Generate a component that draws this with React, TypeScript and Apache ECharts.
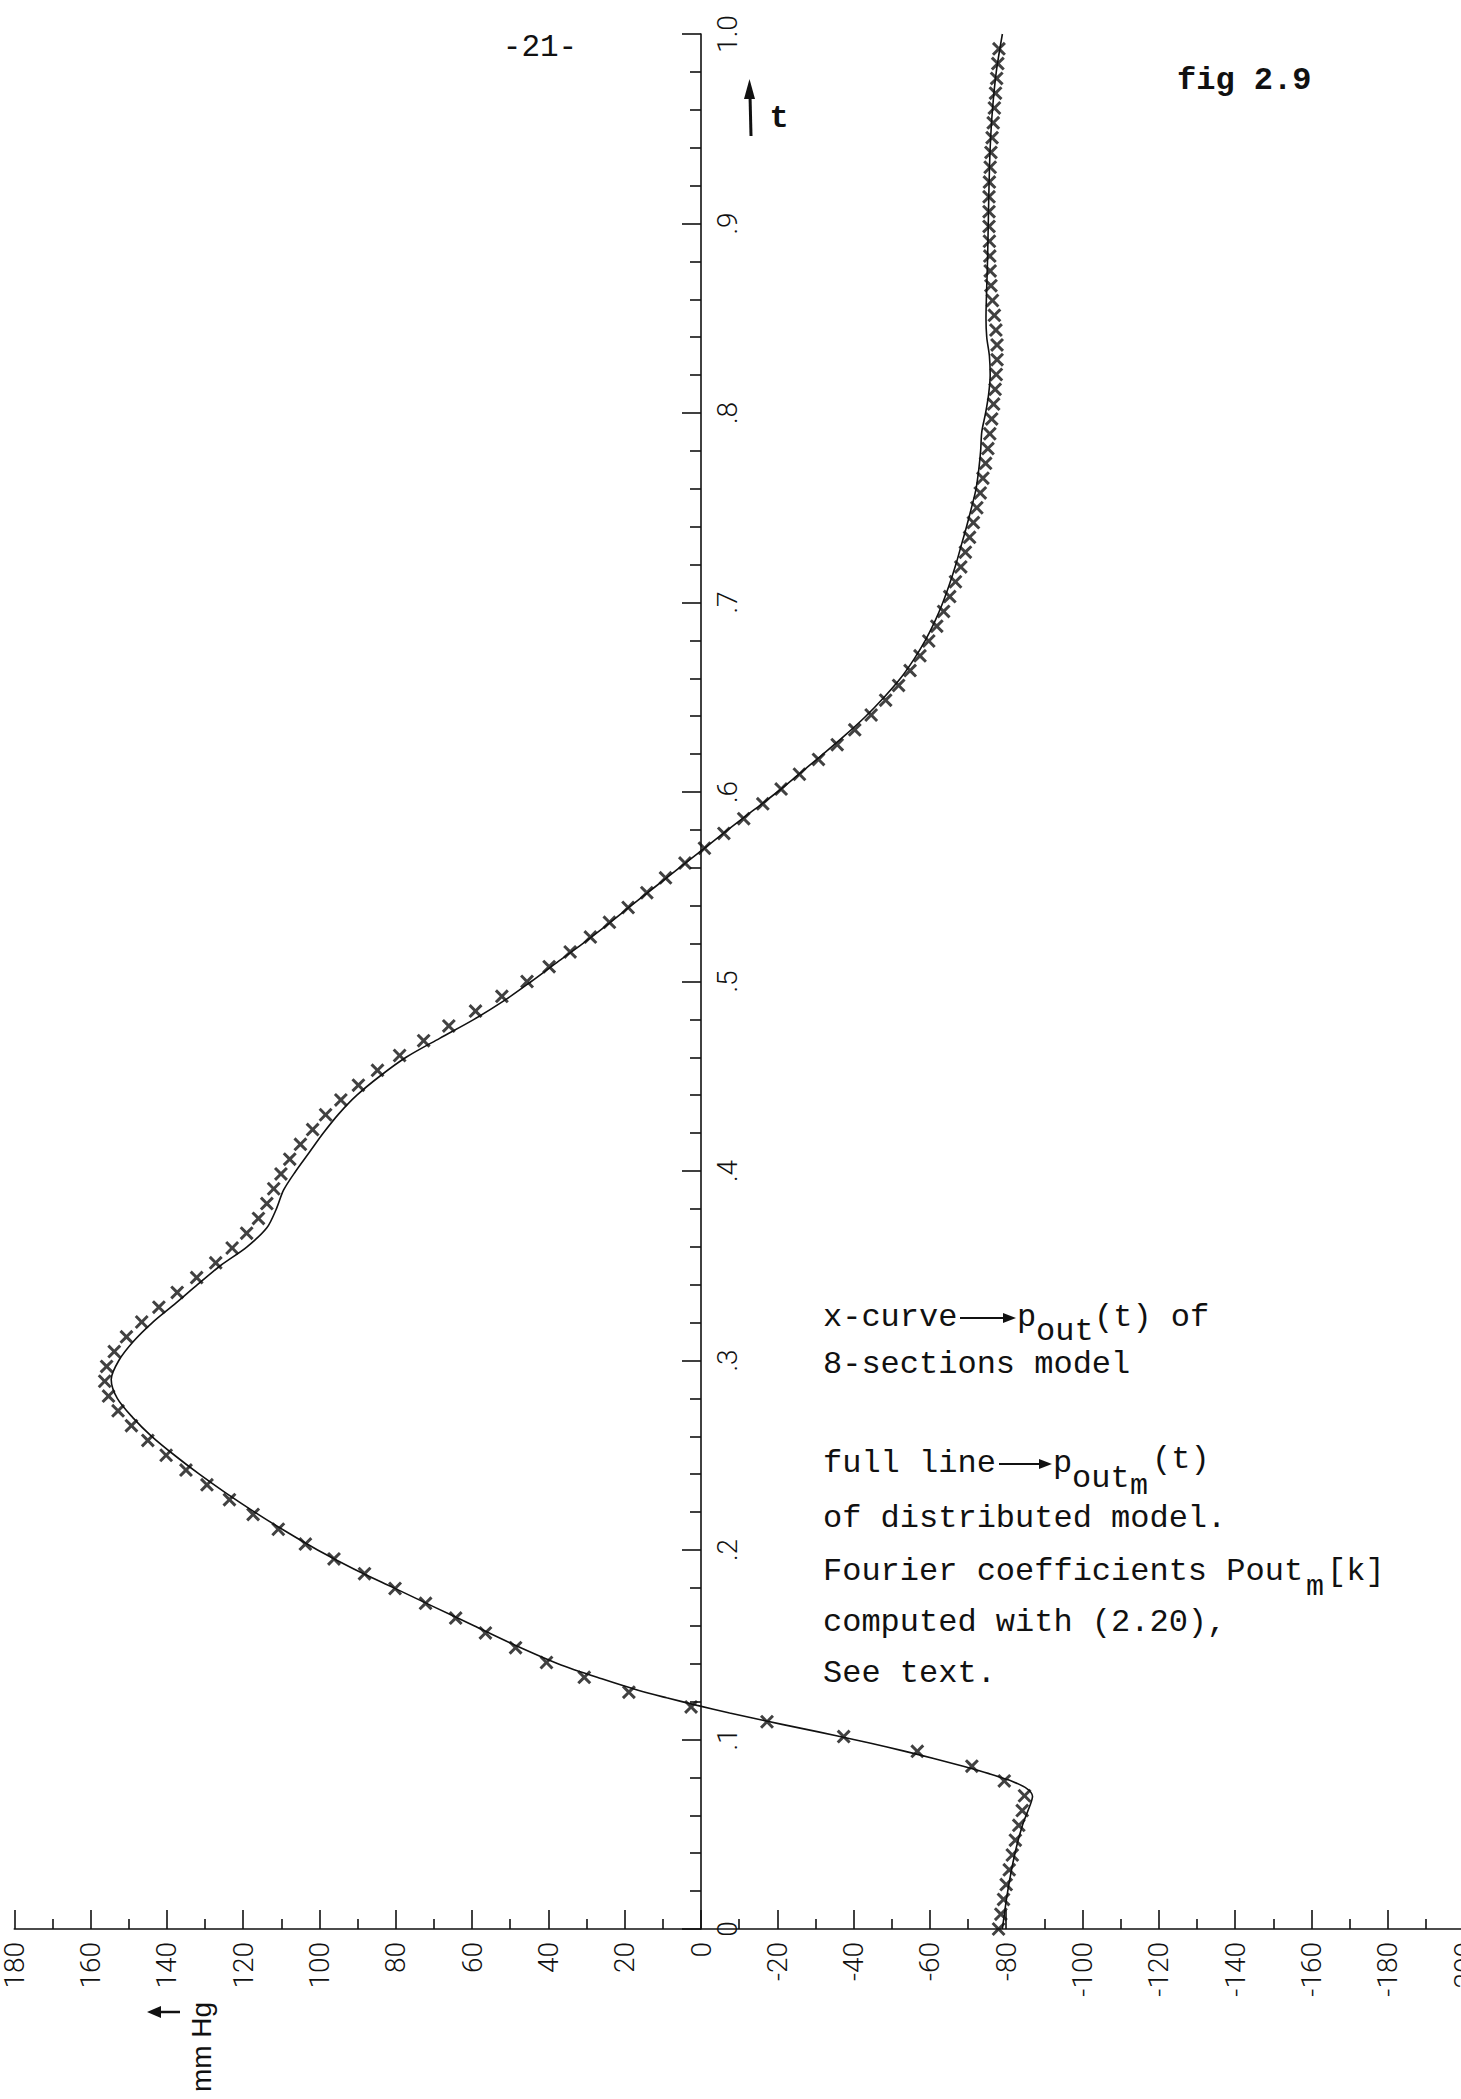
import React, { useEffect, useRef } from "react";
import * as echarts from "echarts";

// Sampling interval of the 8-sections model output: 128 samples per period
const SECTION_MODEL_DT = 1 / 128;

// p_out(t) of the 8-sections model in mmHg, one value per sample (k = 0..127)
const sectionModelP = [
  -78.0, -78.6, -79.3, -80.0, -80.8, -81.6, -82.4, -83.3, -84.2, -84.8,
  -79.5, -71.0, -56.7, -37.4, -17.3, 2.6, 18.9, 30.6, 40.5, 48.6,
  56.5, 64.3, 72.2, 80.2, 88.2, 96.2, 103.7, 110.8, 117.4, 123.6,
  129.5, 135.0, 140.2, 145.0, 149.3, 152.8, 155.3, 156.3, 155.8, 153.8,
  150.6, 146.6, 142.1, 137.3, 132.2, 127.2, 122.9, 119.1, 116.0, 113.8,
  112.0, 110.1, 107.8, 105.0, 101.8, 98.4, 94.4, 89.8, 84.8, 79.0,
  72.7, 66.1, 59.1, 52.2, 45.6, 39.8, 34.3, 29.0, 24.0, 19.1,
  14.2, 9.3, 4.2, -0.9, -6.0, -11.2, -16.2, -21.0, -25.8, -30.8,
  -35.7, -40.3, -44.6, -48.4, -51.8, -54.8, -57.4, -59.7, -61.8, -63.6,
  -65.2, -66.7, -68.1, -69.3, -70.4, -71.4, -72.3, -73.2, -73.9, -74.6,
  -75.2, -75.7, -76.2, -76.7, -77.1, -77.4, -77.6, -77.6, -77.3, -76.9,
  -76.4, -76.0, -75.8, -75.7, -75.6, -75.5, -75.5, -75.5, -75.6, -75.8,
  -76.0, -76.3, -76.6, -76.9, -77.2, -77.5, -77.8, -78.1,
];

// p_out_m(t) of the distributed model (Fourier synthesis), mmHg
const distributedT = [
  0, 0.02, 0.04, 0.055, 0.065, 0.07, 0.074, 0.078, 0.082, 0.086,
  0.09, 0.094, 0.098, 0.102, 0.106, 0.11, 0.114, 0.118, 0.122, 0.126,
  0.132, 0.14, 0.15, 0.16, 0.17, 0.18, 0.19, 0.2, 0.21, 0.22,
  0.23, 0.24, 0.25, 0.26, 0.27, 0.28, 0.29, 0.3, 0.31, 0.32,
  0.33, 0.34, 0.35, 0.36, 0.37, 0.38, 0.39, 0.4, 0.41, 0.42,
  0.43, 0.44, 0.45, 0.46, 0.47, 0.48, 0.49, 0.5, 0.51, 0.52,
  0.53, 0.54, 0.55, 0.56, 0.57, 0.58, 0.59, 0.6, 0.61, 0.62,
  0.63, 0.64, 0.65, 0.66, 0.67, 0.68, 0.69, 0.7, 0.71, 0.72,
  0.73, 0.74, 0.75, 0.76, 0.77, 0.78, 0.79, 0.8, 0.81, 0.82,
  0.83, 0.84, 0.85, 0.86, 0.88, 0.9, 0.92, 0.94, 0.96, 0.98,
  1.0,
];
const distributedP = [
  -79.0, -80.4, -82.3, -84.3, -86.2, -86.9, -85.5, -81.5, -75.5, -68.5,
  -61.0, -53.0, -44.5, -35.5, -26.0, -16.5, -7.5, 1.0, 9.0, 16.5,
  26.0, 37.5, 49.0, 59.5, 70.0, 80.5, 91.0, 100.5, 109.0, 117.0,
  124.5, 131.5, 138.0, 144.0, 149.0, 153.0, 154.6, 152.6, 148.8, 143.8,
  137.8, 132.0, 126.0, 119.0, 113.8, 111.3, 109.4, 106.2, 102.6, 99.0,
  95.0, 90.2, 84.2, 77.3, 68.5, 59.5, 51.5, 44.5, 37.8, 31.0,
  24.5, 18.3, 12.0, 5.7, -0.7, -7.0, -13.5, -20.0, -26.0, -32.0,
  -37.8, -43.2, -48.0, -52.3, -55.8, -58.8, -61.3, -63.4, -65.2, -66.8,
  -68.2, -69.6, -70.9, -72.1, -72.8, -73.3, -73.6, -74.6, -75.4, -75.8,
  -75.6, -74.9, -74.7, -74.8, -75.1, -75.3, -75.5, -75.8, -76.4, -77.4,
  -79.0,
];

// Axis ranges
const PRESSURE_MIN = -200;
const PRESSURE_MAX = 180;
const PRESSURE_STEP = 20;
const T_MIN = 0;
const T_MAX = 1;
const T_STEP = 0.1;

// Plot frame in pixels
const GRID_LEFT = 14.3;
const GRID_RIGHT = 16;
const GRID_TOP = 34;
const GRID_BOTTOM = 170;
const CHART_WIDTH = 1480;

const INK = "#111";
const MONO = '"Liberation Mono", "DejaVu Sans Mono", monospace';
const PLOTTER = 'Roboto, "Liberation Sans", sans-serif';

const CROSS_SYMBOL =
  "path://M0,1.5L1.5,0L5,3.5L8.5,0L10,1.5L6.5,5L10,8.5L8.5,10L5,6.5L1.5,10L0,8.5L3.5,5Z";

type TextOpts = {
  x: number;
  base: number;
  s: string;
  size?: number;
  weight?: string;
  align?: string;
  family?: string;
};

// Typewritten text placed by its baseline
function typed({ x, base, s, size = 32, weight = "normal", align = "left", family = MONO }: TextOpts) {
  return {
    type: "text",
    x,
    y: base - size * 0.3,
    silent: true,
    style: {
      text: s,
      fontSize: size,
      fontFamily: family,
      fontWeight: weight,
      fill: INK,
      align,
      verticalAlign: "middle",
      textAlign: align,
      textVerticalAlign: "middle",
    },
  };
}

// Typewriter-style long arrow pointing right
function rightArrow(x1: number, x2: number, y: number) {
  return [
    { type: "line", silent: true, shape: { x1, y1: y, x2: x2 - 8, y2: y }, style: { stroke: INK, lineWidth: 2 } },
    {
      type: "polygon",
      silent: true,
      shape: { points: [[x2, y], [x2 - 13, y - 5], [x2 - 13, y + 5]] },
      style: { fill: INK },
    },
  ];
}

function buildOption() {
  const crosses = sectionModelP.map((p, k) => [p, k * SECTION_MODEL_DT]);
  const fullLine = distributedT.map((t, i) => [distributedP[i], t]);

  // the t axis stands at p = 0 on the pressure scale
  const plotWidth = CHART_WIDTH - GRID_LEFT - GRID_RIGHT;
  const zeroX = GRID_LEFT + (PRESSURE_MAX / (PRESSURE_MAX - PRESSURE_MIN)) * plotWidth;
  const tAxisOffset = GRID_LEFT - zeroX;

  const L1 = 1327;
  const L2 = 1374;
  const L3 = 1473;
  const L4 = 1528;
  const L5 = 1581;
  const L6 = 1632;
  const L7 = 1683;

  const graphics: any[] = [
    typed({ x: 540, base: 57, s: "-21-", size: 31, align: "center" }),
    typed({ x: 1177, base: 90, s: "fig 2.9", size: 32, weight: "bold" }),
    // time arrow beside the t axis
    typed({ x: 779, base: 128, s: "t", size: 32, weight: "bold", align: "center" }),
    { type: "line", silent: true, shape: { x1: 751, y1: 136, x2: 750, y2: 95 }, style: { stroke: INK, lineWidth: 3 } },
    { type: "polygon", silent: true, shape: { points: [[749.5, 79], [744, 99], [755, 99]] }, style: { fill: INK } },
    // pressure unit
    {
      type: "text",
      x: 201,
      y: 2047,
      rotation: Math.PI / 2,
      silent: true,
      style: {
        text: "mm Hg",
        fontSize: 28,
        fontFamily: '"Liberation Sans", sans-serif',
        fill: INK,
        align: "center",
        verticalAlign: "middle",
        textAlign: "center",
        textVerticalAlign: "middle",
      },
    },
    { type: "line", silent: true, shape: { x1: 180, y1: 2012, x2: 158, y2: 2012 }, style: { stroke: INK, lineWidth: 2.5 } },
    { type: "polygon", silent: true, shape: { points: [[147, 2012], [161, 2006], [161, 2018]] }, style: { fill: INK } },

    // x-curve -> p_out(t) of 8-sections model
    typed({ x: 823, base: L1, s: "x-curve" }),
    ...rightArrow(960, 1016, L1 - 9),
    typed({ x: 1017, base: L1, s: "p" }),
    typed({ x: 1036, base: L1 + 14, s: "out" }),
    typed({ x: 1094, base: L1, s: "(t) of" }),
    typed({ x: 823, base: L2, s: "8-sections model" }),

    // full line -> p_out_m(t) of distributed model
    typed({ x: 823, base: L3, s: "full line" }),
    ...rightArrow(999, 1052, L3 - 9),
    typed({ x: 1053, base: L3, s: "p" }),
    typed({ x: 1072, base: L3 + 15, s: "out" }),
    typed({ x: 1130, base: L3 + 22, s: "m", size: 30 }),
    typed({ x: 1152, base: L3 - 4, s: "(t)" }),
    typed({ x: 823, base: L4, s: "of distributed model." }),
    typed({ x: 823, base: L5, s: "Fourier coefficients Pout" }),
    typed({ x: 1306, base: L5 + 15, s: "m", size: 30 }),
    typed({ x: 1327, base: L5, s: "[k]" }),
    typed({ x: 823, base: L6, s: "computed with (2.20)," }),
    typed({ x: 823, base: L7, s: "See text." }),
  ];

  const axisLabelFont = {
    fontFamily: PLOTTER,
    fontSize: 28,
    fontWeight: 300,
    color: INK,
  };

  return {
    animation: false,
    backgroundColor: "#fff",
    grid: { left: GRID_LEFT, right: GRID_RIGHT, top: GRID_TOP, bottom: GRID_BOTTOM, containLabel: false },
    xAxis: {
      type: "value",
      min: PRESSURE_MIN,
      max: PRESSURE_MAX,
      interval: PRESSURE_STEP,
      inverse: true,
      axisLine: { show: true, onZero: false, lineStyle: { color: INK, width: 1.6 } },
      axisTick: { show: true, inside: true, length: 19, lineStyle: { color: INK, width: 1.6 } },
      minorTick: { show: true, splitNumber: 2, length: 10, lineStyle: { color: INK, width: 1.6 } },
      axisLabel: {
        ...axisLabelFont,
        rotate: 90,
        margin: 13,
        interval: 0,
        showMinLabel: true,
        showMaxLabel: true,
        hideOverlap: false,
      },
      splitLine: { show: false },
      minorSplitLine: { show: false },
    },
    yAxis: {
      type: "value",
      min: T_MIN,
      max: T_MAX,
      interval: T_STEP,
      position: "left",
      offset: tAxisOffset,
      axisLine: { show: true, onZero: false, lineStyle: { color: INK, width: 1.6 } },
      axisTick: { show: true, inside: false, length: 19, lineStyle: { color: INK, width: 1.6 } },
      minorTick: { show: true, splitNumber: 5, length: 11, lineStyle: { color: INK, width: 1.6 } },
      axisLabel: {
        ...axisLabelFont,
        inside: true,
        rotate: 90,
        margin: 12,
        showMinLabel: true,
        showMaxLabel: true,
        formatter: (v: number) => {
          if (Math.abs(v) < 1e-9) return "0";
          if (v > 0.999) return "1.0";
          return "." + Math.round(v * 10);
        },
      },
      splitLine: { show: false },
      minorSplitLine: { show: false },
    },
    series: [
      {
        name: "distributed model",
        type: "line",
        data: fullLine,
        showSymbol: false,
        smooth: 0.3,
        lineStyle: { color: INK, width: 1.6 },
        z: 2,
        silent: true,
      },
      {
        name: "8-sections model",
        type: "scatter",
        data: crosses,
        symbol: CROSS_SYMBOL,
        symbolSize: 14,
        itemStyle: { color: INK },
        z: 3,
        silent: true,
      },
    ],
    graphic: graphics,
  };
}

export default function App() {
  const ref = useRef<HTMLDivElement | null>(null);

  useEffect(() => {
    if (!ref.current) return;
    const chart = echarts.init(ref.current, null, { renderer: "svg" });
    chart.setOption(buildOption() as any);
    return () => {
      chart.dispose();
    };
  }, []);

  return (
    <div
      style={{
        position: "fixed",
        left: 0,
        top: 0,
        width: 1461,
        height: 2099,
        overflow: "hidden",
        background: "#fff",
      }}
    >
      <div ref={ref} style={{ width: CHART_WIDTH, height: 2099 }} />
    </div>
  );
}
